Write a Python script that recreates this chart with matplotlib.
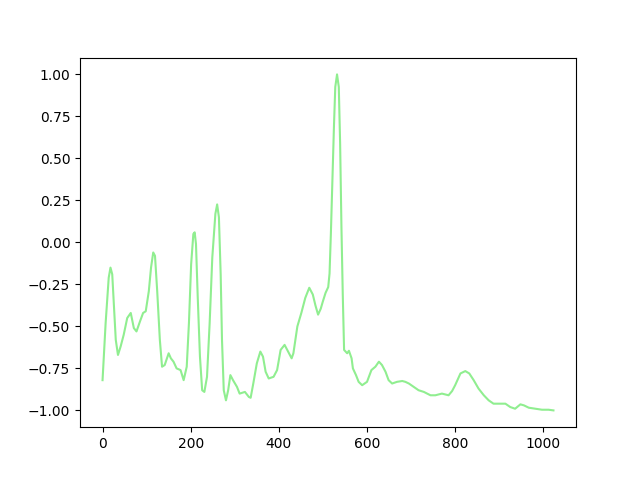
import matplotlib
matplotlib.use("Agg")
import matplotlib.pyplot as plt

x = [0, 7, 14, 18, 22, 26, 30, 35, 41, 48, 56, 64, 71, 77, 85, 92, 98, 105, 110, 115, 119, 124,
     130, 135, 141, 150, 155, 161, 168, 177, 184, 191, 196, 201, 206, 209, 212, 216, 221, 226, 231,
     237, 243, 249, 256, 260, 264, 268, 271, 275, 280, 285, 290, 296, 305, 311, 323, 332, 336, 342,
     350, 358, 364, 370, 377, 388, 396, 404, 413, 419, 429, 433, 442, 451, 460, 469, 477, 483, 489,
     495, 500, 506, 512, 515, 518, 521, 525, 528, 532, 536, 539, 542, 545, 548, 555, 559, 565, 568,
     575, 581, 589, 600, 610, 619, 627, 634, 642, 649, 657, 668, 680, 687, 695, 706, 717, 729, 744,
     755, 770, 785, 793, 800, 812, 823, 832, 842, 853, 865, 876, 887, 899, 914, 925, 936, 948, 956,
     967, 982, 997, 1012, 1023]
y = [-0.82, -0.48, -0.21, -0.15, -0.19, -0.39, -0.58, -0.67, -0.62, -0.55, -0.45, -0.42, -0.51,
     -0.53, -0.47, -0.42, -0.41, -0.29, -0.15, -0.06, -0.08, -0.29,
     -0.58, -0.74, -0.73, -0.66, -0.69, -0.71, -0.75, -0.76, -0.82, -0.74, -0.48, -0.13, 0.05,
     0.06, -0.01, -0.33, -0.68, -0.88, -0.89,
     -0.80, -0.48, -0.09, 0.17, 0.226, 0.15, -0.19, -0.58, -0.88, -0.94, -0.88, -0.79, -0.82,
     -0.86, -0.90, -0.89, -0.92, -0.925, -0.84,
     -0.72, -0.65, -0.68, -0.77, -0.81, -0.80, -0.76, -0.64, -0.61, -0.64, -0.69, -0.66, -0.50,
     -0.42, -0.33, -0.27, -0.31, -0.375, -0.43,
     -0.395, -0.35, -0.30, -0.266, -0.185, 0.05, 0.33, 0.69, 0.925, 1.00, 0.925, 0.59, 0.09,
     -0.31, -0.64, -0.66, -0.645, -0.69, -0.75,
     -0.79, -0.83, -0.85, -0.83, -0.76, -0.74, -0.71, -0.73, -0.77, -0.82, -0.84, -0.83, -0.825,
     -0.83, -0.84, -0.86, -0.88, -0.89, -0.91,
     -0.91, -0.90, -0.91, -0.885, -0.85, -0.78, -0.766, -0.78, -0.82, -0.87, -0.91, -0.94, -0.96,
     -0.96, -0.96, -0.98, -0.99, -0.964, -0.97,
     -0.984, -0.99, -0.996, -0.996, -1.00]

fig, ax = plt.subplots(figsize=(6.4, 4.8), dpi=100)
ax.plot(x, y, color="lightgreen", linewidth=1.5)
fig.savefig("out.png")
